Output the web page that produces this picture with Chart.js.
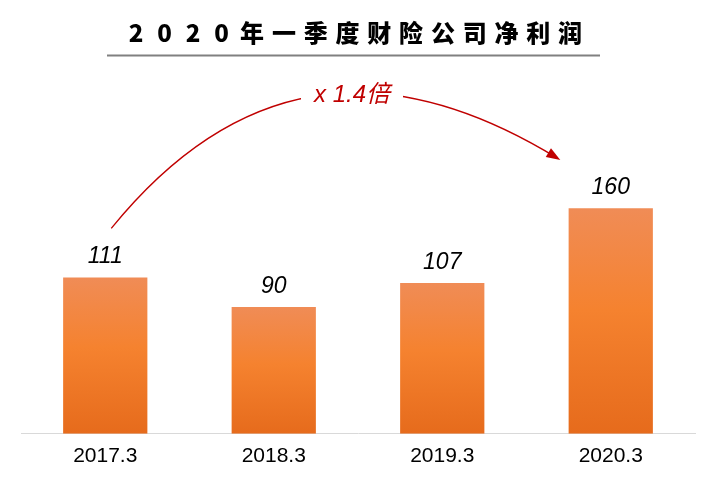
<!DOCTYPE html>
<html>
<head>
<meta charset="utf-8">
<script src="https://cdn.jsdelivr.net/npm/chart.js@4"></script>
<style>
  html, body { margin: 0; padding: 0; background: #fff; }
  #wrap { width: 712px; height: 481px; }
</style>
</head>
<body>
<div id="wrap"><canvas id="myChart"></canvas></div>
<script>
const titleText = '2020年一季度财险公司净利润';
const categories = ['2017.3', '2018.3', '2019.3', '2020.3'];
const profits = [111, 90, 107, 160];
const growthLabel = 'x 1.4倍';

const fontLatin = '"Liberation Sans", Arial, "Noto Sans CJK SC", sans-serif';

function barGradient(context) {
    const chart = context.chart;
    const area = chart.chartArea;
    if (!area) return '#F07F30';
    const y = chart.scales.y;
    const top = y.getPixelForValue(context.raw);
    const bottom = y.getPixelForValue(0);
    const g = chart.ctx.createLinearGradient(0, top, 0, bottom);
    g.addColorStop(0, '#F08C56');
    g.addColorStop(0.45, '#F5822F');
    g.addColorStop(1, '#E66B1C');
    return g;
}

const decorPlugin = {
    id: 'decor',
    afterDraw(chart) {
        const ctx = chart.ctx;
        const xs = chart.scales.x, ys = chart.scales.y;

        // title, spaced characters
        ctx.save();
        ctx.fillStyle = '#000';
        ctx.font = '900 24px "Noto Sans CJK SC", sans-serif';
        ctx.textBaseline = 'middle';
        ctx.textAlign = 'left';
        const chars = Array.from(titleText);
        const adv = chars.map(c => /[0-9]/.test(c) ? 28.5 : 31.8);
        let total = adv.reduce((a, b) => a + b, 0) - 7;
        let x = 354 - total / 2;
        chars.forEach((c, i) => {
            const w = ctx.measureText(c).width;
            const cell = /[0-9]/.test(c) ? 21 : 25;
            ctx.fillText(c, x + (cell - w) / 2, 33);
            x += adv[i];
        });
        // underline
        ctx.strokeStyle = '#808080';
        ctx.lineWidth = 2;
        ctx.beginPath();
        ctx.moveTo(107, 55.5);
        ctx.lineTo(600, 55.5);
        ctx.stroke();
        ctx.restore();

        // value labels
        ctx.save();
        ctx.font = 'italic 23px ' + fontLatin;
        ctx.fillStyle = '#000';
        ctx.textAlign = 'center';
        ctx.textBaseline = 'alphabetic';
        chart.getDatasetMeta(0).data.forEach((bar, i) => {
            ctx.fillText(String(profits[i]), bar.x, bar.y - 14);
        });
        ctx.restore();

        // growth arrow from first to last bar
        const first = 0, last = profits.length - 1;
        const x0 = xs.getPixelForValue(first) + 6;
        const y0 = ys.getPixelForValue(profits[first]) - 49;
        const x3 = xs.getPixelForValue(last) - 53;
        const y3 = ys.getPixelForValue(profits[last]) - 50;
        const p1 = [x0 + 122, y0 - 150];
        const p2 = [x3 - 178, y3 - 109];
        ctx.save();
        ctx.strokeStyle = '#C00000';
        ctx.fillStyle = '#C00000';
        ctx.lineWidth = 1.3;
        ctx.beginPath();
        ctx.moveTo(x0, y0);
        ctx.bezierCurveTo(p1[0], p1[1], p2[0], p2[1], x3, y3);
        ctx.stroke();
        // arrowhead
        const dx = x3 - p2[0], dy = y3 - p2[1];
        const len = Math.hypot(dx, dy);
        const ux = dx / len, uy = dy / len;
        const hl = 11, hw = 5;
        ctx.beginPath();
        ctx.moveTo(x3 + ux * 3, y3 + uy * 3);
        ctx.lineTo(x3 - ux * hl - uy * hw, y3 - uy * hl + ux * hw);
        ctx.lineTo(x3 - ux * hl + uy * hw, y3 - uy * hl - ux * hw);
        ctx.closePath();
        ctx.fill();
        // label over the curve
        const lx = (xs.getPixelForValue(1) + xs.getPixelForValue(2)) / 2 - 6;
        ctx.fillStyle = '#fff';
        ctx.fillRect(lx - 51, 80, 102, 30);
        ctx.fillStyle = '#C00000';
        ctx.font = 'italic 24px ' + fontLatin;
        ctx.textAlign = 'center';
        ctx.textBaseline = 'middle';
        ctx.fillText(growthLabel, lx, 95);
        ctx.restore();
    }
};

const ctx = document.getElementById('myChart');
new Chart(ctx, {
    type: 'bar',
    data: {
        labels: categories,
        datasets: [{
            label: '净利润',
            data: profits,
            backgroundColor: barGradient,
            borderWidth: 0,
            categoryPercentage: 1,
            barPercentage: 0.5
        }]
    },
    options: {
        responsive: true,
        maintainAspectRatio: false,
        animation: false,
        layout: {
            padding: { left: 21, right: 17, top: 152, bottom: 10 }
        },
        scales: {
            x: {
                grid: { display: false },
                border: { display: true, color: '#D9D9D9', width: 1 },
                ticks: {
                    color: '#000',
                    padding: 2,
                    font: { family: fontLatin, size: 21 }
                }
            },
            y: {
                display: false,
                min: 0,
                max: 200
            }
        },
        plugins: {
            legend: { display: false },
            tooltip: { enabled: false }
        }
    },
    plugins: [decorPlugin]
});
</script>
</body>
</html>
